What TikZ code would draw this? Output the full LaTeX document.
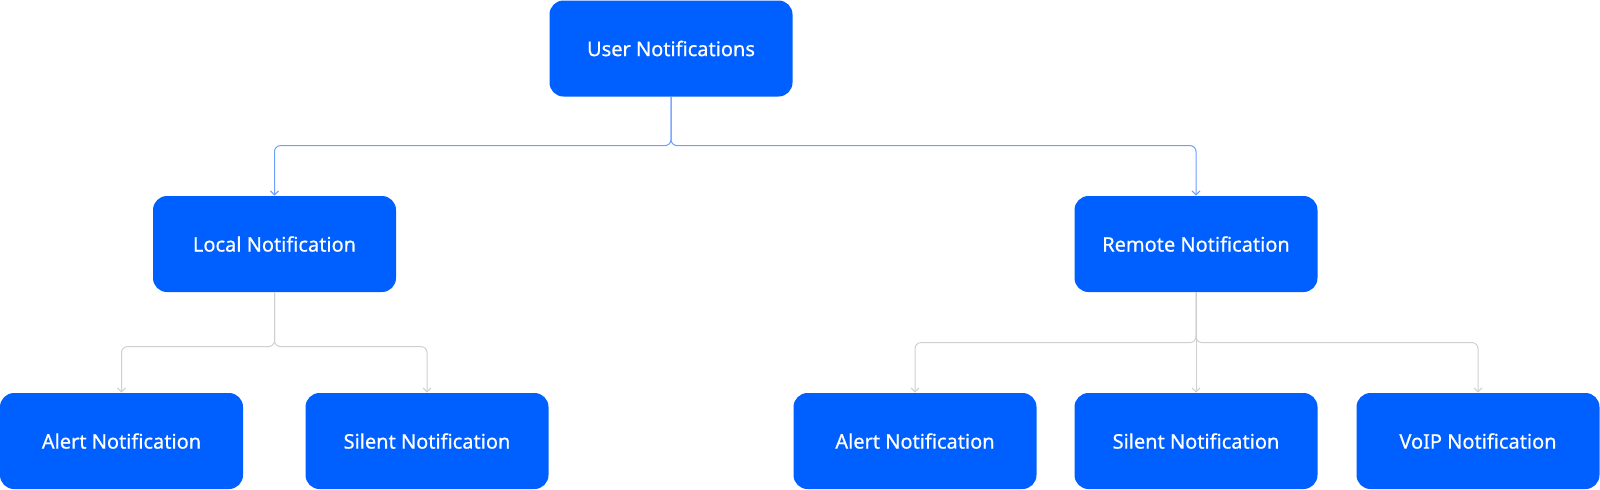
\documentclass[tikz,border=0pt]{standalone}
\usepackage{fontspec}
\setmainfont{Noto Sans}
\newfontfamily\boxfont[FakeBold=0.6]{Noto Sans}
\usepackage{xcolor}
\usetikzlibrary{arrows.meta,calc}

\definecolor{boxblue}{HTML}{0060FF}
\definecolor{toplink}{HTML}{6C9DFF}
\definecolor{sublink}{HTML}{CFCFCF}

\begin{document}
\begin{tikzpicture}[>={Straight Barb[length=2pt,width=4pt]},x=0.5pt,y=-0.5pt,
    notif/.style={draw=none,fill=boxblue,rounded corners=7pt,text=white,
      minimum width=121.5pt,minimum height=48pt,inner sep=0pt,
      font=\boxfont\fontsize{10}{12}\selectfont},
    link/.style={->,line width=0.5pt,rounded corners=3pt}]
    \useasboundingbox (0,0) rectangle (1600,489);
    % boxes
    \node[notif] (user) at (671,48.5) {User Notifications};
    \node[notif] (local) at (274.5,244) {Local Notification};
    \node[notif] (remote) at (1196,244) {Remote Notification};
    \node[notif] (alertL) at (121.5,441) {Alert Notification};
    \node[notif] (silentL) at (427,441) {Silent Notification};
    \node[notif] (alertR) at (915,441) {Alert Notification};
    \node[notif] (silentR) at (1196,441) {Silent Notification};
    \node[notif] (voip) at (1478,441) {VoIP Notification};
    % links
    \draw[link,toplink] (user.south) |- ($(local.north)+(0,-50)$) -- (local.north);
    \draw[link,toplink] (user.south) |- ($(remote.north)+(0,-50)$) -- (remote.north);
    \draw[link,sublink] (local.south) |- ($(alertL.north)+(0,-46)$) -- (alertL.north);
    \draw[link,sublink] (local.south) |- ($(silentL.north)+(0,-46)$) -- (silentL.north);
    \draw[link,sublink] (remote.south) |- ($(alertR.north)+(0,-50)$) -- (alertR.north);
    \draw[link,sublink] (remote.south) -- (silentR.north);
    \draw[link,sublink] (remote.south) |- ($(voip.north)+(0,-50)$) -- (voip.north);
\end{tikzpicture}
\end{document}
